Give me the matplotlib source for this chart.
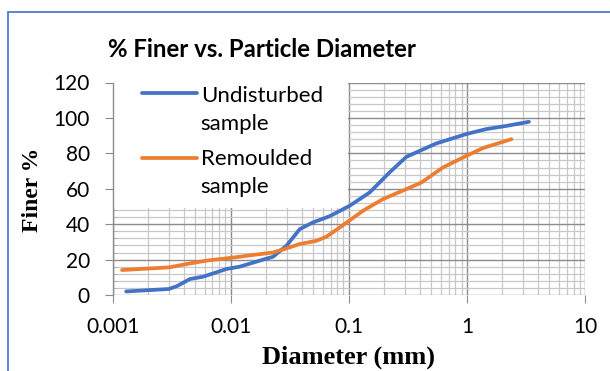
import matplotlib
matplotlib.use("Agg")
import matplotlib.pyplot as plt
from matplotlib.patches import Rectangle
from matplotlib.lines import Line2D
from matplotlib.ticker import LogLocator, MultipleLocator, FixedLocator, FixedFormatter

# ---- data ----
undisturbed_d = [0.0013, 0.0030, 0.0035, 0.0045, 0.0058, 0.0071, 0.0092, 0.0119, 0.0176,
                 0.0228, 0.0296, 0.0384, 0.0497, 0.0688, 0.1017, 0.150, 0.221, 0.307,
                 0.398, 0.551, 0.99, 1.46, 2.16, 3.35]
undisturbed_p = [2.0, 3.4, 5.0, 9.0, 10.3, 12.2, 14.7, 16.0, 19.4, 21.6, 27.8, 37.2, 41.0,
                 44.5, 50.4, 57.9, 69.2, 78.0, 81.4, 85.6, 90.9, 93.7, 95.5, 97.8]
remoulded_d = [0.0012, 0.0030, 0.0045, 0.0062, 0.0098, 0.0154, 0.0228, 0.0296, 0.0384,
               0.0531, 0.0645, 0.0836, 0.132, 0.195, 0.307, 0.411, 0.626, 0.99, 1.37, 2.38]
remoulded_p = [14.1, 15.6, 17.8, 19.4, 20.9, 22.6, 24.0, 26.3, 28.8, 30.6, 32.9, 38.1,
               47.6, 54.2, 59.8, 63.5, 72.0, 78.6, 83.0, 88.0]
series_names = ["Undisturbed\nsample", "Remoulded\nsample"]
x_ticks = [0.001, 0.01, 0.1, 1, 10]
x_tick_labels = ["0.001", "0.01", "0.1", "1", "10"]
title = "% Finer vs. Particle Diameter"
xlabel = "Diameter (mm)"
ylabel = "Finer %"

BLUE = "#4472C4"
ORANGE = "#ED7D31"
SANS = ["Lato", "DejaVu Sans"]
SERIF = ["Liberation Serif", "DejaVu Serif"]

fig = plt.figure(figsize=(6.1, 3.71), dpi=100)
W, H = 610, 371

# outer blue border (top and left edges visible)
fig.patches.append(Rectangle((8.3 / W, -0.1), 1.2, (1 - 11.7 / H) + 0.1, transform=fig.transFigure,
                             fill=False, edgecolor="#4F7DCC", linewidth=1.3))

L, R, T, B = 112.7, 585.0, 82.5, 295.0
ax = fig.add_axes([L / W, 1 - B / H, (R - L) / W, (B - T) / H])
ax.set_xscale("log")
ax.set_xlim(0.001, 10)
ax.set_ylim(0, 120)

LW = 2.7
ax.plot(undisturbed_d, undisturbed_p, color=BLUE, lw=LW, solid_capstyle="round",
        solid_joinstyle="round", zorder=3)
ax.plot(remoulded_d, remoulded_p, color=ORANGE, lw=LW, solid_capstyle="round",
        solid_joinstyle="round", zorder=3)

ax.xaxis.set_major_locator(FixedLocator(x_ticks))
ax.xaxis.set_major_formatter(FixedFormatter(x_tick_labels))
ax.xaxis.set_minor_locator(LogLocator(base=10, subs=range(2, 10), numticks=20))
ax.yaxis.set_major_locator(MultipleLocator(20))
ax.yaxis.set_minor_locator(MultipleLocator(4))

ax.grid(which="major", color="#8c8c8c", lw=1.0, zorder=1)
ax.grid(which="minor", color="#c8c8c8", lw=0.9, zorder=1)
ax.set_axisbelow(True)

for s in ["top", "right", "bottom"]:
    ax.spines[s].set_visible(False)
ax.spines["left"].set_color("#8c8c8c")
ax.spines["left"].set_linewidth(1.0)

ax.tick_params(axis="x", which="major", length=5.5, color="#8c8c8c", pad=10, labelsize=15)
ax.tick_params(axis="x", which="minor", length=0)
ax.tick_params(axis="y", which="major", length=5.5, color="#8c8c8c", pad=11, labelsize=15)
ax.tick_params(axis="y", which="minor", direction="in", length=3, color="#b0b0b0")
for lab in ax.get_xticklabels() + ax.get_yticklabels():
    lab.set_family(SANS)

# white legend background covering upper-left grid
ax.add_patch(Rectangle((0.002, 0.41), 0.496, 0.6, transform=ax.transAxes, facecolor="white",
                       edgecolor="none", zorder=1.8, clip_on=True))

def px_to_ax(px, py):
    return (px - L) / (R - L), (B - py) / (B - T)

# legend keys and labels (drawn in axes-fraction space); y = key row, baseline of last line
legend_items = [(BLUE, series_names[0], 93.3, 130.0),
                (ORANGE, series_names[1], 158.3, 193.0)]
for color, name, key_y, base_y in legend_items:
    x0, y0 = px_to_ax(141.7, key_y)
    x1, _ = px_to_ax(196.7, key_y)
    ax.add_line(Line2D([x0, x1], [y0, y0], transform=ax.transAxes, color=color, lw=LW,
                       solid_capstyle="round", zorder=4, clip_on=False))
    tx, ty = px_to_ax(200.7, base_y)
    ax.text(tx, ty, name, transform=ax.transAxes, family=SANS, fontsize=16,
            ha="left", va="baseline", linespacing=1.5, zorder=4)

fig.text(108 / W, 1 - 56.7 / H, title, family=SANS, fontweight="bold", fontsize=17.3,
         ha="left", va="baseline")
fig.text(33 / W, 1 - 190 / H, ylabel, family=SERIF, fontweight="bold", fontsize=17,
         rotation=90, ha="center", va="center")
fig.text(348 / W, 1 - 357 / H, xlabel, family=SERIF, fontweight="bold", fontsize=19,
         ha="center", va="center")

fig.savefig("out.png", dpi=100)
